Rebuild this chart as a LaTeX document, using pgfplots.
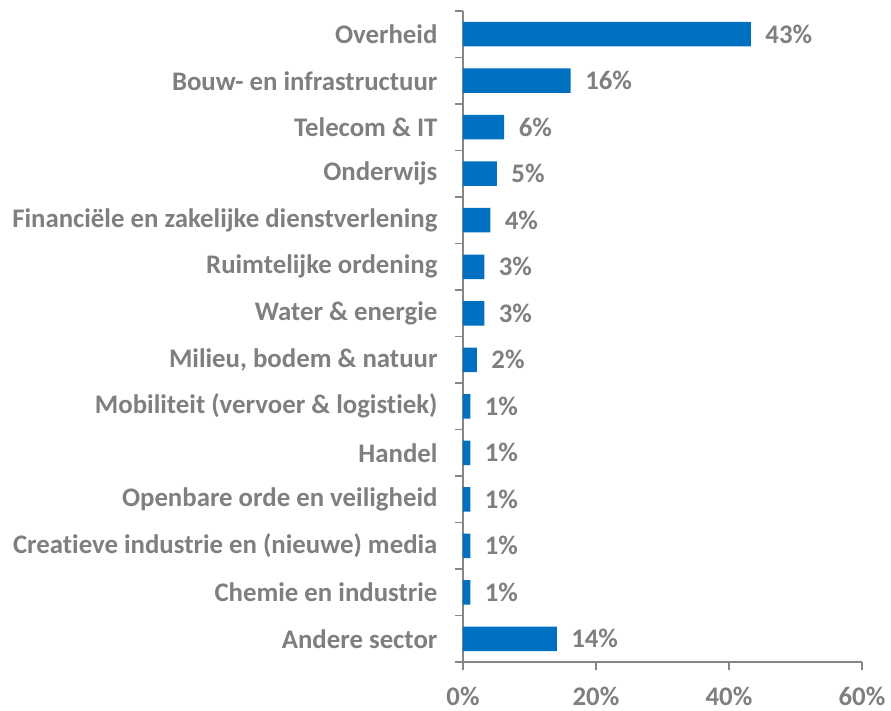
\documentclass[border=0pt]{standalone}
\usepackage{fontspec}
\setmainfont{Carlito}[Ligatures=NoCommon]
\usepackage{pgfplots}
\pgfplotsset{compat=1.18}
\definecolor{barblue}{HTML}{0070C0}
\definecolor{labgray}{HTML}{7F7F7F}
\definecolor{axgray}{HTML}{868686}

\begin{document}
\begin{tikzpicture}[x=1pt,y=1pt]
\path[use as bounding box] (-463pt,-49pt) rectangle (428pt,662pt);
\begin{axis}[
    at={(0,0)}, anchor=south west,
    scale only axis,
    width=399pt, height=651pt,
    xbar,
    bar width=24.5pt,
    xmin=0, xmax=60,
    ymin=-0.5, ymax=13.5,
    y dir=reverse,
    axis x line*=bottom,
    axis y line*=left,
    axis line style={draw=axgray, line width=1.3pt},
    tick align=outside,
    major tick length=8pt,
    minor tick length=8pt,
    tick style={draw=axgray, line width=1.3pt},
    xtick={0,20,40,60},
    xticklabel={\pgfmathprintnumber{\tick}\%},
    xticklabel style={font=\fontsize{26.8}{30}\selectfont\bfseries, text=labgray, yshift=-13pt},
    ytick={0,...,13},
    every major y tick/.style={draw=none},
    minor ytick={-0.5,0.5,...,13.5},
    every minor y tick/.style={draw=axgray, line width=1.3pt},
    yticklabels={Overheid, Bouw- en infrastructuur, Telecom \& IT, Onderwijs,
      Financiële en zakelijke dienstverlening, Ruimtelijke ordening,
      Water \& energie, {Milieu, bodem \& natuur}, Mobiliteit (vervoer \& logistiek),
      Handel, Openbare orde en veiligheid, Creatieve industrie en (nieuwe) media,
      Chemie en industrie, Andere sector},
    yticklabel style={font=\fontsize{26.8}{30}\selectfont\bfseries, text=labgray, xshift=-14pt},
    /pgf/number format/assume math mode=true,
    nodes near coords={\pgfmathprintnumber[fixed,precision=0]{\pgfplotspointmeta}\%},
    every node near coord/.append style={font=\fontsize{26.8}{30}\selectfont\bfseries, text=labgray, anchor=west, xshift=11pt},
    clip=false,
]
\addplot[fill=barblue, draw=none] coordinates {
  (43.3,0) (16.2,1) (6.2,2) (5.1,3) (4.1,4) (3.2,5) (3.2,6)
  (2.1,7) (1.1,8) (1.1,9) (1.1,10) (1.1,11) (1.1,12) (14.1,13)
};
\end{axis}
\end{tikzpicture}
\end{document}
